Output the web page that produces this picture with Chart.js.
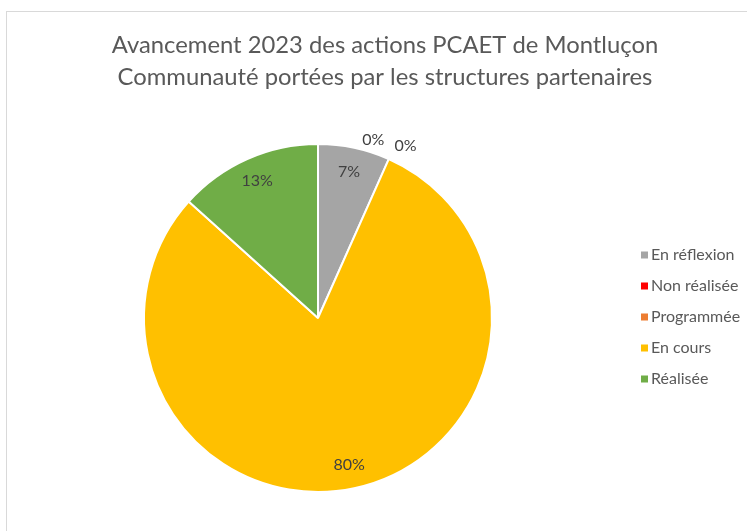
<!DOCTYPE html>
<html><head><meta charset="utf-8">
<script src="https://cdn.jsdelivr.net/npm/chart.js@4"></script>
<style>
html,body{margin:0;padding:0;background:#fff;overflow:hidden;width:747px;height:531px}
#frame{position:absolute;left:6px;top:11px;width:756px;height:530px;border:1px solid #d9d9d9;background:#fff}
#wrap{position:absolute;left:0;top:0;width:756px;height:519px}
</style></head><body>
<div id="frame"><div id="wrap"><canvas id="c"></canvas></div></div>
<script>
const titleLines = ["Avancement 2023 des actions PCAET de Montluçon", "Communauté portées par les structures partenaires"];
const categories = ["En réflexion", "Non réalisée", "Programmée", "En cours", "Réalisée"];
const actionCounts = [1, 0, 0, 12, 2];
const sliceColors = ["#A5A5A5", "#FF0000", "#ED7D31", "#FFC000", "#70AD47"];

const FONT = "Lato, 'Noto Sans', sans-serif";

const titlePlugin = {
  id: 'excelTitle',
  afterDraw(chart) {
    const ctx = chart.ctx;
    ctx.save();
    ctx.font = "23.8px " + FONT;
    ctx.fillStyle = "#595959";
    ctx.textAlign = "center";
    ctx.textBaseline = "middle";
    titleLines.forEach((t, i) => ctx.fillText(t, chart.width / 2, 33 + i * 32));
    ctx.restore();
  }
};

const legendPlugin = {
  id: 'excelLegend',
  afterDraw(chart) {
    const ctx = chart.ctx;
    const meta = chart.getDatasetMeta(0);
    const n = chart.data.labels.length;
    const cy = (chart.chartArea.top + chart.chartArea.bottom) / 2 - 1;
    const bx = chart.chartArea.right + 148;
    ctx.save();
    ctx.font = "16px " + FONT;
    ctx.textBaseline = "middle";
    ctx.textAlign = "left";
    chart.data.labels.forEach((lab, i) => {
      const y = cy + (i - (n - 1) / 2) * 31;
      ctx.fillStyle = meta.data[i].options.backgroundColor;
      ctx.fillRect(bx, y - 3.5, 7, 7);
      ctx.fillStyle = "#595959";
      ctx.fillText(lab, bx + 10, y);
    });
    ctx.restore();
  }
};

const labelPlugin = {
  id: 'pctLabels',
  afterDatasetsDraw(chart) {
    const ctx = chart.ctx;
    const ds = chart.data.datasets[0];
    const total = ds.data.reduce((a, b) => a + b, 0);
    const arcs = chart.getDatasetMeta(0).data;
    ctx.save();
    ctx.font = "16px " + FONT;
    ctx.fillStyle = "#404040";
    ctx.textBaseline = "middle";
    const zeros = [];
    arcs.forEach((arc, i) => { if (ds.data[i] === 0) zeros.push(i); });
    arcs.forEach((arc, i) => {
      const v = ds.data[i];
      const txt = Math.round(v / total * 100) + "%";
      if (v > 0) {
        const mid = (arc.startAngle + arc.endAngle) / 2;
        const r = arc.outerRadius * 0.86;
        ctx.textAlign = "center";
        ctx.fillText(txt, arc.x + Math.cos(mid) * r, arc.y + Math.sin(mid) * r);
      } else {
        const k = zeros.length;
        const j = zeros.indexOf(i);
        const r = arc.outerRadius * 1.08;
        const px = arc.x + Math.cos(arc.startAngle) * r;
        const py = arc.y + Math.sin(arc.startAngle) * r;
        if (j === k - 1) {
          ctx.textAlign = "left";
          ctx.fillText(txt, px, py);
        } else {
          const s = k - 1 - j;
          ctx.textAlign = "right";
          ctx.fillText(txt, px - 10 * s, py - 6 * s);
        }
      }
    });
    ctx.restore();
  }
};

new Chart(document.getElementById('c'), {
  type: 'pie',
  data: {
    labels: categories,
    datasets: [{
      data: actionCounts,
      backgroundColor: sliceColors,
      borderColor: "#ffffff",
      borderWidth: 2
    }]
  },
  options: {
    responsive: true,
    maintainAspectRatio: false,
    animation: false,
    events: [],
    layout: { padding: { top: 131, left: 136, right: 270, bottom: 38 } },
    plugins: {
      legend: { display: false },
      title: { display: false },
      tooltip: { enabled: false }
    }
  },
  plugins: [titlePlugin, legendPlugin, labelPlugin]
});
</script>
</body></html>
